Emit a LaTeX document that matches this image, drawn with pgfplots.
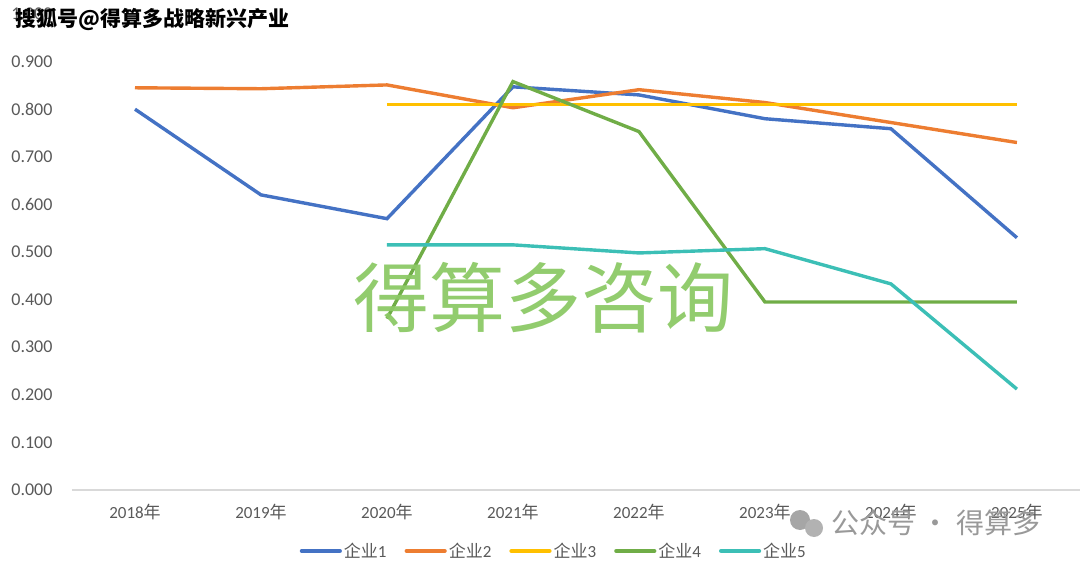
\documentclass[border=0pt]{standalone}
\usepackage{fontspec}
\setmainfont{Carlito}
\newfontfamily\cjk{Noto Sans CJK SC}
\usepackage{pgfplots}
\pgfplotsset{compat=1.18}

\definecolor{cA}{HTML}{4472C4}
\definecolor{cB}{HTML}{ED7D31}
\definecolor{cC}{HTML}{FFC000}
\definecolor{cD}{HTML}{70AD47}
\definecolor{cE}{HTML}{3CBFB6}
\definecolor{tickgray}{HTML}{595959}
\definecolor{wmgreen}{HTML}{8CC966}
\newcommand{\nian}{{\cjk 年}}
\newcommand{\qy}{{\cjk 企业}}

\begin{document}
\begin{tikzpicture}
\useasboundingbox (0,0) rectangle (1080pt,566pt);
\begin{axis}[
  at={(72pt,76pt)}, anchor=south west,
  scale only axis, width=1008pt, height=476pt,
  xmin=-0.5, xmax=7.5, ymin=0, ymax=1,
  xtick={0,...,7},
  xticklabels={2018\nian,2019\nian,2020\nian,2021\nian,2022\nian,2023\nian,2024\nian,2025\nian},
  ytick={0,0.1,...,1.0},
  yticklabel style={/pgf/number format/fixed, /pgf/number format/zerofill,
    /pgf/number format/precision=3, /pgf/number format/assume math mode=true},
  ticklabel style={text=tickgray},
  xticklabel style={yshift=-11pt, font=\fontsize{17}{19}\selectfont},
  yticklabel style={xshift=-16pt, font=\fontsize{18}{20}\selectfont},
  major tick length=0pt,
  axis x line*=bottom, axis y line*=left,
  x axis line style={draw=black!15, line width=1.3pt},
  y axis line style={draw=none},
  every axis plot/.append style={line width=3.4pt},
  legend style={at={(0.478,-0.128)}, anchor=center, draw=none, fill=none,
    font=\fontsize{17}{19}\selectfont, text=tickgray, legend columns=-1,
    /tikz/every even column/.append style={column sep=16pt}},
  legend image code/.code={\draw[#1, line width=4.2pt, line cap=round] (0pt,0pt) -- (38pt,0pt);},
]
\addplot[cA] coordinates {(0,0.800) (1,0.620) (2,0.570) (3,0.847) (4,0.830) (5,0.780) (6,0.759) (7,0.530)};
\addlegendentry{\qy1}
\addplot[cB] coordinates {(0,0.845) (1,0.843) (2,0.851) (3,0.803) (4,0.841) (5,0.814) (6,0.772) (7,0.730)};
\addlegendentry{\qy2}
\addplot[cC] coordinates {(2,0.810) (3,0.810) (4,0.810) (5,0.810) (6,0.810) (7,0.810)};
\addlegendentry{\qy3}
\addplot[cD] coordinates {(2,0.360) (3,0.858) (4,0.753) (5,0.395) (6,0.395) (7,0.395)};
\addlegendentry{\qy4}
\addplot[cE] coordinates {(2,0.515) (3,0.515) (4,0.498) (5,0.507) (6,0.433) (7,0.212)};
\addlegendentry{\qy5}
\end{axis}
% watermarks
\node[anchor=center, text=wmgreen, opacity=0.95, font=\cjk\fontsize{76}{80}\selectfont] at (543pt,268pt) {得算多咨询};
\node[anchor=west, text=black!40, font=\cjk\fontsize{28}{30}\selectfont] at (828pt,43pt) {公众号 · 得算多};
\fill[black!35] (800pt,46pt) circle (10pt);
\fill[black!30] (814pt,38pt) circle (9pt);
\node[anchor=west, text=black, font=\cjk\bfseries\fontsize{21}{23}\selectfont] at (12pt,546pt) {搜狐号@得算多战略新兴产业};
\end{tikzpicture}
\end{document}
